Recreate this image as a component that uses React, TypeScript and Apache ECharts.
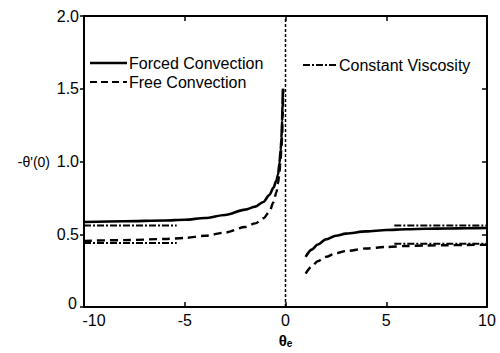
import React, { useEffect, useRef } from "react";
import * as echarts from "echarts";

// Forced convection (solid), left branch (θe < 0) and right branch (θe > 0)
const forcedLeftX = [-10, -8, -6, -5, -4, -3, -2, -1.5, -1.1, -0.8, -0.6, -0.45, -0.37, -0.3, -0.24, -0.2, -0.17, -0.15, -0.13];
const forcedLeftY = [0.585, 0.59, 0.595, 0.6, 0.612, 0.633, 0.67, 0.69, 0.722, 0.77, 0.82, 0.87, 0.91, 0.99, 1.08, 1.16, 1.28, 1.39, 1.5];
const forcedRightX = [1.0, 1.3, 1.6, 2, 2.5, 3, 4, 5, 6, 7, 8, 9, 10];
const forcedRightY = [0.345, 0.395, 0.43, 0.465, 0.49, 0.505, 0.52, 0.53, 0.535, 0.538, 0.54, 0.542, 0.543];

// Free convection (dashed)
const freeLeftX = [-10, -8, -6, -5, -4, -3, -2, -1.5, -1.1, -0.8, -0.6, -0.45, -0.37, -0.3, -0.25, -0.2, -0.17, -0.14, -0.12, -0.11];
const freeLeftY = [0.455, 0.46, 0.468, 0.475, 0.49, 0.512, 0.55, 0.575, 0.61, 0.655, 0.72, 0.79, 0.85, 0.93, 1.0, 1.09, 1.17, 1.3, 1.42, 1.5];
const freeRightX = [1.0, 1.3, 1.6, 2, 2.5, 3, 4, 5, 6, 7, 8, 9, 10];
const freeRightY = [0.23, 0.28, 0.315, 0.345, 0.37, 0.385, 0.403, 0.413, 0.42, 0.423, 0.425, 0.427, 0.428];

// Constant viscosity (dash-dot) asymptotes
const cvLeftX = [-10, -5.4];
const cvRightX = [5.4, 10];
const cvLeftUpper = [0.56, 0.56];
const cvLeftLower = [0.44, 0.44];
const cvRightUpper = [0.56, 0.56];
const cvRightLower = [0.435, 0.435];

// Vertical reference line at θe = 0
const zeroLineX = [0, 0];
const zeroLineY = [0, 2];

const xTicks = [-10, -5, 0, 5, 10];
const yTicks = [0, 0.5, 1.0, 1.5, 2.0];

const NAMES = {
  forced: "Forced Convection",
  free: "Free Convection",
  cv: "Constant Viscosity",
};

const zip = (xs: number[], ys: number[]) => xs.map((x, i) => [x, ys[i]]);

const FONT = "'Liberation Sans', Arial, sans-serif";

export default function App() {
  const ref = useRef<HTMLDivElement>(null);

  useEffect(() => {
    if (!ref.current) return;
    const chart = echarts.init(ref.current, null, { renderer: "svg" });

    const SOLID_DASH: any = null;
    const DASHED = [8, 5];
    const DASHDOT = [7, 2, 2, 2];
    const solid = { color: "#000", width: 2.6, type: "solid" as const };
    const dashed = { color: "#000", width: 2.4, type: DASHED as any };
    const dashDot = { color: "#000", width: 2, type: DASHDOT as any };

    const mk = (name: string, data: number[][], lineStyle: any, smooth = 0.3) => ({
      type: "line",
      name,
      data,
      showSymbol: false,
      symbol: "none",
      smooth,
      smoothMonotone: "x",
      lineStyle,
      itemStyle: { color: "#000" },
      emphasis: { disabled: true },
      silent: true,
    });

    const axisLine = { show: true, onZero: false, lineStyle: { color: "#000", width: 2 } };

    const legendItem = (x1: number, x2: number, y: number, dash: any, width: number, label: string) => [
      {
        type: "line",
        shape: { x1, y1: y, x2, y2: y },
        style: { stroke: "#000", lineWidth: width, lineDash: dash },
        silent: true,
      },
      {
        type: "text",
        x: x2 + 2,
        y,
        style: {
          text: label,
          fill: "#000",
          font: `16px ${FONT}`,
          textVerticalAlign: "middle",
          verticalAlign: "middle",
        },
        silent: true,
      },
    ];

    chart.setOption({
      animation: false,
      backgroundColor: "#fff",
      textStyle: { fontFamily: FONT, color: "#000" },
      grid: { left: 84, right: 13, top: 16, bottom: 38 },
      graphic: [
        ...legendItem(90, 127, 63, SOLID_DASH, 2.4, NAMES.forced),
        ...legendItem(90, 127, 82, [7, 4], 2.2, NAMES.free),
        ...legendItem(303, 337, 65, DASHDOT, 1.8, NAMES.cv),
      ],
      xAxis: [
        {
          type: "value",
          position: "bottom",
          min: xTicks[0],
          max: xTicks[xTicks.length - 1],
          interval: 5,
          axisLine,
          axisTick: { show: true, inside: true, length: 5, lineStyle: { color: "#000", width: 1.5 } },
          axisLabel: {
            color: "#000",
            fontSize: 16,
            margin: 5,
            fontFamily: FONT,
            formatter: (v: number) => (v === -10 ? "{s|-10}" : String(v)),
            rich: { s: { fontSize: 16, fontFamily: FONT, color: "#000", padding: [0, 0, 0, 20] } },
          },
          splitLine: { show: false },
          name: "θₑ",
          nameLocation: "middle",
          nameGap: 25,
          nameTextStyle: { fontSize: 15, fontWeight: "bold", color: "#000", fontFamily: FONT },
        },
        {
          type: "value",
          position: "top",
          min: xTicks[0],
          max: xTicks[xTicks.length - 1],
          interval: 5,
          axisLine,
          axisTick: { show: true, inside: true, length: 5, lineStyle: { color: "#000", width: 1.5 } },
          axisLabel: { show: false },
          splitLine: { show: false },
        },
      ],
      yAxis: [
        {
          type: "value",
          position: "left",
          min: yTicks[0],
          max: yTicks[yTicks.length - 1],
          interval: 0.5,
          axisLine,
          axisTick: { show: true, inside: false, length: 4, lineStyle: { color: "#000", width: 1.5 } },
          axisLabel: {
            color: "#000",
            fontSize: 16,
            margin: 5,
            fontFamily: FONT,
            formatter: (v: number) => (v === 0 ? "{z|0}" : v.toFixed(1)),
            rich: { z: { fontSize: 16, fontFamily: FONT, color: "#000", padding: [0, 2, 8, 0] } },
          },
          splitLine: { show: false },
          name: "-θ'(0)",
          nameLocation: "middle",
          nameRotate: 0,
          nameGap: 34,
          nameTextStyle: { fontSize: 14, color: "#000", fontFamily: FONT, align: "right" },
        },
        {
          type: "value",
          position: "right",
          min: yTicks[0],
          max: yTicks[yTicks.length - 1],
          interval: 0.5,
          axisLine,
          axisTick: { show: true, inside: true, length: 5, lineStyle: { color: "#000", width: 1.5 } },
          axisLabel: { show: false },
          splitLine: { show: false },
        },
      ],
      series: [
        mk(NAMES.forced, zip(forcedLeftX, forcedLeftY), solid),
        mk(NAMES.forced, zip(forcedRightX, forcedRightY), solid),
        mk(NAMES.free, zip(freeLeftX, freeLeftY), dashed),
        mk(NAMES.free, zip(freeRightX, freeRightY), dashed),
        mk(NAMES.cv, zip(cvLeftX, cvLeftUpper), dashDot, 0),
        mk(NAMES.cv, zip(cvLeftX, cvLeftLower), dashDot, 0),
        mk(NAMES.cv, zip(cvRightX, cvRightUpper), dashDot, 0),
        mk(NAMES.cv, zip(cvRightX, cvRightLower), dashDot, 0),
        mk("zero", zip(zeroLineX, zeroLineY), { color: "#000", width: 1.5, type: [3, 2] }, 0),
      ],
    });

    return () => chart.dispose();
  }, []);

  return <div ref={ref} style={{ width: 500, height: 353, position: "absolute", left: 0, top: 0 }} />;
}
